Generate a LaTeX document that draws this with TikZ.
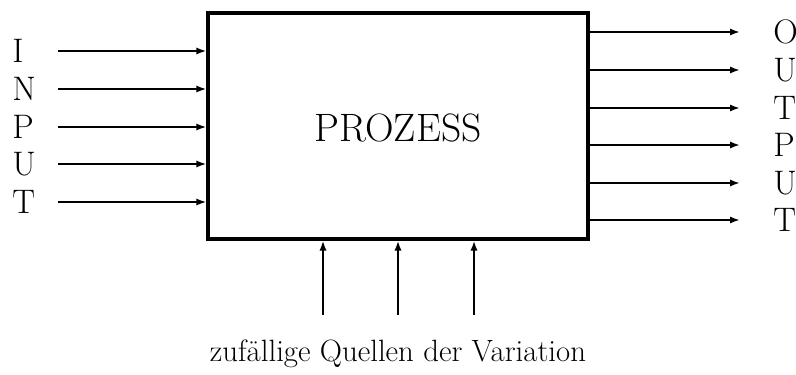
\documentclass[tikz,border=0pt]{standalone}
\usetikzlibrary{arrows.meta}
\begin{document}
\begin{tikzpicture}[x=0.5pt,y=-0.5pt,
  flow/.style={line width=1pt,-{Latex[length=5pt,width=3.6pt]}},
  letter/.style={anchor=west,inner sep=0pt,font=\fontsize{17}{20}\selectfont},
  procbox/.style={draw,line width=1.6pt,inner sep=0pt}]
\useasboundingbox (0,0) rectangle (796,374);
% process block
\node[procbox,minimum width=190pt,minimum height=113pt] (proc) at (398,126) {};
\node[font=\fontsize{19.8}{23}\selectfont] (title) at (398,128) {PROZESS};
% inputs
\foreach \c/\y [count=\i] in {I/51,N/89,P/127,U/164,T/202}{
  \node[letter] (inl\i) at (12,\y) {\c};
  \coordinate (in\i) at (58,\y);
  \draw[flow] (in\i) -- (in\i -| proc.west);
}
% outputs
\foreach \c/\y [count=\i] in {O/32,U/70,T/108,P/145,U/183,T/220}{
  \node[letter] (outl\i) at (773,\y) {\c};
  \coordinate (out\i) at (740,\y);
  \draw[flow] (out\i -| proc.east) -- (out\i);
}
% random sources of variation
\foreach \x [count=\i] in {323,398,474}{
  \coordinate (src\i) at (\x,315);
  \draw[flow] (src\i) -- (src\i |- proc.south);
}
\node[font=\fontsize{15.4}{18}\selectfont] (var) at (398,354) {zuf\"allige Quellen der Variation};
\end{tikzpicture}
\end{document}
